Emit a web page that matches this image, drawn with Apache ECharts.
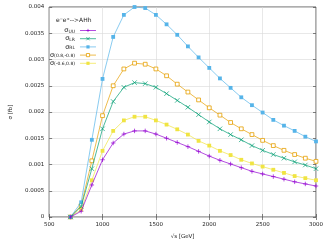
<!DOCTYPE html>
<html><head><meta charset="utf-8">
<script src="https://cdn.jsdelivr.net/npm/echarts@6/dist/echarts.min.js"></script>
<style>html,body{margin:0;padding:0;background:#fff}#c{width:327px;height:245px}</style>
</head><body><div id="c"></div>
<script>
const sqrtS = [700,800,900,1000,1100,1200,1300,1400,1500,1600,1700,1800,1900,2000,2100,2200,2300,2400,2500,2600,2700,2800,2900,3000];
const sigmaUU = [0,0.00011,0.00061,0.00109,0.00141,0.00158,0.00164,0.00164,0.00158,0.0015,0.00142,0.00134,0.00125,0.00116,0.00108,0.00101,0.00094,0.00087,0.00082,0.00077,0.00072,0.00067,0.00063,0.00059];
const sigmaLR = [0,0.0002,0.00092,0.00168,0.0022,0.00247,0.00256,0.00254,0.00247,0.00235,0.00222,0.00209,0.00195,0.00181,0.00168,0.00157,0.00147,0.00136,0.00127,0.00119,0.00112,0.00105,0.00099,0.00092];
const sigmaRL = [0,0.00028,0.00147,0.00263,0.00343,0.00385,0.004,0.00398,0.00385,0.00367,0.00347,0.00325,0.00304,0.00284,0.00264,0.00246,0.00228,0.00213,0.00199,0.00185,0.00174,0.00164,0.00153,0.00144];
const sigmaP1 = [0,0.00022,0.00107,0.00193,0.0025,0.00282,0.00293,0.00291,0.00282,0.00269,0.00253,0.00238,0.00223,0.00208,0.00194,0.0018,0.00168,0.00157,0.00146,0.00136,0.00127,0.00119,0.00112,0.00106];
const sigmaP2 = [0,0.00014,0.0007,0.00126,0.00164,0.00184,0.00191,0.00191,0.00184,0.00176,0.00167,0.00157,0.00145,0.00136,0.00126,0.00118,0.00109,0.00102,0.00096,0.0009,0.00084,0.00078,0.00074,0.0007];
const xTicks = [500,1000,1500,2000,2500,3000];
const yTicks = [0,0.0005,0.001,0.0015,0.002,0.0025,0.003,0.0035,0.004];
const seriesNames = ['UU','LR','RL','P1','P2'];
const legendLabels = {UU:'{s|σ}{sub|UU}', LR:'{s|σ}{sub|LR}', RL:'{s|σ}{sub|RL}', P1:'{s|σ}{sub|(0.8,-0.8)}', P2:'{s|σ}{sub|(-0.6,0.8)}'};
const titleText = 'e⁻e⁺-->AHh';

const FONT = 'DejaVu Sans';
const colors = ['#9400d3','#009e73','#56b4e9','#e69f00','#f0e442'];
const symbols = ['path://M0,5L10,5M5,0L5,10','path://M1,1L9,9M9,1L1,9','rect','rect','rect'];
const data = [sigmaUU, sigmaLR, sigmaRL, sigmaP1, sigmaP2];
const chart = echarts.init(document.getElementById('c'));
function itemStyleFor(i){
  if(i===3) return {color:'#fff',borderColor:colors[i],borderWidth:0.8};
  if(i<2) return {color:colors[i],borderColor:colors[i],borderWidth:0.7};
  return {color:colors[i],borderWidth:0};
}
const series = seriesNames.map((n,i)=>({
  name:n, type:'line', data: sqrtS.map((x,j)=>[x,data[i][j]]),
  symbol: symbols[i], symbolSize: i<2?4.5:3.8, showSymbol:true,
  lineStyle:{width:0.7,color:colors[i]},
  itemStyle: itemStyleFor(i),
  animation:false, z: 5-i
}));
const tickStyle = {show:true,inside:true,length:3,lineStyle:{color:'#333',width:0.6}};
const gridLine = {show:true,lineStyle:{color:'#d9d9d9',width:0.6}};
chart.setOption({
  animation:false,
  grid:{left:41,right:11,top:7,bottom:25,show:true,borderColor:'#333',borderWidth:0.8},
  title:{text:titleText,left:51,top:12,textStyle:{fontFamily:FONT,fontSize:6,fontWeight:'normal',color:'#222'}},
  legend:{orient:'vertical',left:50,top:27,align:'right',itemWidth:16,itemHeight:4,itemGap:1.2,padding:0,
    data:seriesNames.map((n,i)=>({name:n,itemStyle:itemStyleFor(i),lineStyle:{width:0.7,color:colors[i]}})),
    formatter:n=>legendLabels[n],
    textStyle:{fontFamily:FONT,color:'#222',padding:[0,0,0,0],lineHeight:7,
      rich:{s:{fontSize:6.5,lineHeight:7,fontFamily:FONT,color:'#222'},sub:{fontSize:4.5,lineHeight:7,fontFamily:FONT,color:'#222',verticalAlign:'bottom',padding:[2,0,0,0]}}}},
  xAxis:[{type:'value',min:500,max:3000,interval:500,
    axisLine:{show:false},axisTick:tickStyle,splitLine:gridLine,
    axisLabel:{fontFamily:FONT,fontSize:5.5,color:'#222',margin:5,formatter:v=>String(v)},
    name:'√s [GeV]',nameLocation:'middle',nameGap:17,nameTextStyle:{fontFamily:FONT,fontSize:5.5,color:'#222'}},
   {type:'value',position:'top',min:500,max:3000,interval:500,axisLine:{show:false},
    axisTick:tickStyle,axisLabel:{show:false},splitLine:{show:false}}],
  yAxis:[{type:'value',min:0,max:0.004,interval:0.0005,
    axisLine:{show:false},axisTick:tickStyle,splitLine:gridLine,
    axisLabel:{fontFamily:FONT,fontSize:5.5,color:'#222',margin:5,formatter:v=>String(+v.toFixed(4))},
    name:'σ [fb]',nameLocation:'middle',nameGap:33,nameRotate:90,nameTextStyle:{fontFamily:FONT,fontSize:5.5,color:'#222'}},
   {type:'value',position:'right',min:0,max:0.004,interval:0.0005,axisLine:{show:false},
    axisTick:tickStyle,axisLabel:{show:false},splitLine:{show:false}}],
  series
});
</script></body></html>
